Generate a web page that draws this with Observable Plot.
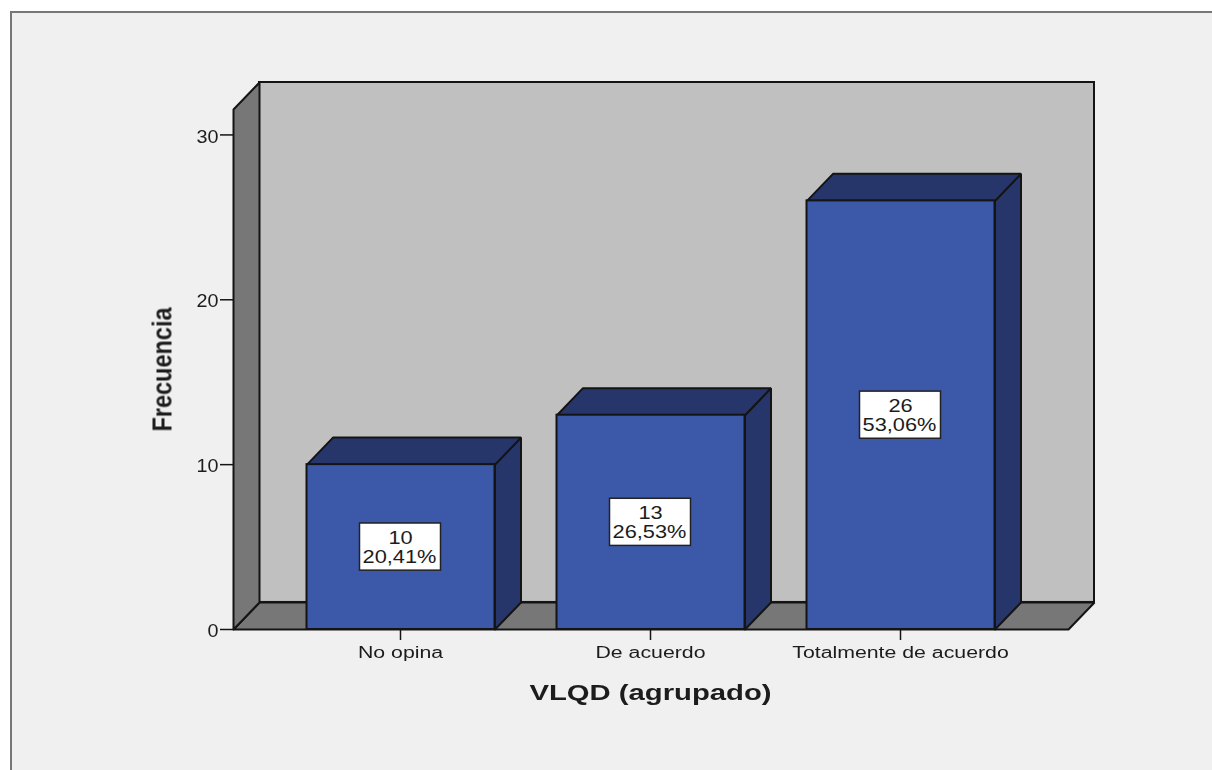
<!DOCTYPE html>
<html>
<head>
<meta charset="utf-8">
<script src="https://cdn.jsdelivr.net/npm/d3@7"></script>
<script src="https://cdn.jsdelivr.net/npm/@observablehq/plot@0.6"></script>
<style>
  html, body { margin: 0; padding: 0; background: #ffffff; overflow: hidden; }
  #page { position: relative; width: 1212px; height: 770px; }
  #frame { position: absolute; left: 10px; top: 11px; right: 0; bottom: 0; background: #f0f0f0;
           border-left: 2px solid #777777; border-top: 2px solid #777777; }
  #chart { position: absolute; left: 0; top: 0; }
  #chart svg { display: block; background: transparent; filter: blur(0.45px); }
</style>
</head>
<body>
<div id="page"><div id="frame"></div><div id="chart"></div></div>
<script>
const categories = ["No opina", "De acuerdo", "Totalmente de acuerdo"];
const frequencies = [10, 13, 26];
const percents = ["20,41%", "26,53%", "53,06%"];
const yTicks = [0, 10, 20, 30];

const xMin = -0.668, xMax = 2.776, yTop = 33.18;
const depthX = 0.104, depthY = 1.64;
const halfBar = 0.376, barShift = 0.002, boxHalfW = 0.162, boxHalfH = 1.43;

const rows = categories.map((name, i) => ({
  name, i, v: frequencies[i], pct: percents[i]
}));

function poly(key, pts) { return pts.map(([x, y]) => ({key, x, y})); }

const leftWall = poly("left", [[xMin, 0], [xMin + depthX, depthY], [xMin + depthX, yTop], [xMin, yTop - depthY], [xMin, 0]]);
const floor = poly("floor", [[xMin, 0], [xMin + depthX, depthY], [xMax, depthY], [xMax - depthX, 0], [xMin, 0]]);
const sides = rows.flatMap(d => {
  const r = d.i + barShift + halfBar;
  return poly("side" + d.i, [[r, 0], [r + depthX, depthY], [r + depthX, d.v + depthY], [r, d.v], [r, 0]]);
});
const tops = rows.flatMap(d => {
  const l = d.i + barShift - halfBar, r = d.i + barShift + halfBar;
  return poly("top" + d.i, [[l, d.v], [l + depthX, d.v + depthY], [r + depthX, d.v + depthY], [r, d.v], [l, d.v]]);
});

const ink = "#141414";
const faceOpts = (fill) => ({x: "x", y: "y", z: "key", fill, stroke: ink, strokeWidth: 2, strokeLinejoin: "miter"});

const chart = Plot.plot({
  width: 1212, height: 770,
  marginLeft: 233, marginRight: 118, marginTop: 82, marginBottom: 141,
  style: {fontFamily: "'Liberation Sans', Arial, sans-serif", color: "#1c1c1c", background: "transparent", overflow: "visible"},
  x: {domain: [xMin, xMax], axis: null},
  y: {domain: [0, yTop], axis: null},
  marks: [
    Plot.rect([0], {x1: xMin + depthX, x2: xMax, y1: depthY, y2: yTop, fill: "#c0c0c0", stroke: ink, strokeWidth: 2}),
    Plot.line(floor, faceOpts("#777777")),
    Plot.line(leftWall, faceOpts("#777777")),
    Plot.line(sides, faceOpts("#26366b")),
    Plot.line(tops, faceOpts("#26366b")),
    Plot.rect(rows, {x1: d => d.i + barShift - halfBar, x2: d => d.i + barShift + halfBar, y1: 0, y2: "v", fill: "#3c58a8", stroke: ink, strokeWidth: 2}),
    Plot.rect(rows, {x1: d => d.i - boxHalfW, x2: d => d.i + boxHalfW, y1: d => d.v / 2 - boxHalfH, y2: d => d.v / 2 + boxHalfH, fill: "#ffffff", stroke: "#222222", strokeWidth: 1.5}),
    Plot.text(rows, {x: "i", y: d => d.v / 2, text: d => String(d.v), fontSize: 18, fill: "#1c1c1c", dy: -9}),
    Plot.text(rows, {x: "i", y: d => d.v / 2, text: "pct", fontSize: 18, fill: "#1c1c1c", dy: 10, dx: -1}),
    Plot.ruleY(yTicks, {y: d => d, x1: xMin - 13 / 250, x2: xMin, stroke: ink, strokeWidth: 1.5}),
    Plot.text(yTicks, {y: d => d, x: xMin, text: d => String(d), fontSize: 17.5, textAnchor: "end", dx: -15, dy: 2, fill: "#1c1c1c"}),
    Plot.axisX({ticks: [0, 1, 2], tickFormat: i => categories[i], tickSize: 11, tickPadding: 6, fontSize: 16, label: null, anchor: "bottom", stroke: ink, strokeWidth: 1.5}),
    Plot.text(["VLQD (agrupado)"], {frameAnchor: "bottom", dx: -13.5, dy: 70, fontSize: 22, fontWeight: "bold", fill: "#1c1c1c"}),
    Plot.text(["Frecuencia"], {frameAnchor: "left", textAnchor: "middle", dx: -71, dy: 13.5, rotate: -90, fontSize: 27, fontWeight: "bold", fill: "#1c1c1c"})
  ]
});
document.getElementById("chart").appendChild(chart);

// The reference's type is horizontally stretched; reproduce it per font size.
const stretch = {"16": 1.33, "17.5": 1.13, "18": 1.21, "22": 1.33, "27": 0.87};
chart.querySelectorAll("text").forEach(t => {
  const g = t.closest("[font-size]");
  const k = g && stretch[g.getAttribute("font-size")];
  if (k) {
    t.setAttribute("textLength", t.getComputedTextLength() * k);
    t.setAttribute("lengthAdjust", "spacingAndGlyphs");
  }
});
</script>
</body>
</html>
